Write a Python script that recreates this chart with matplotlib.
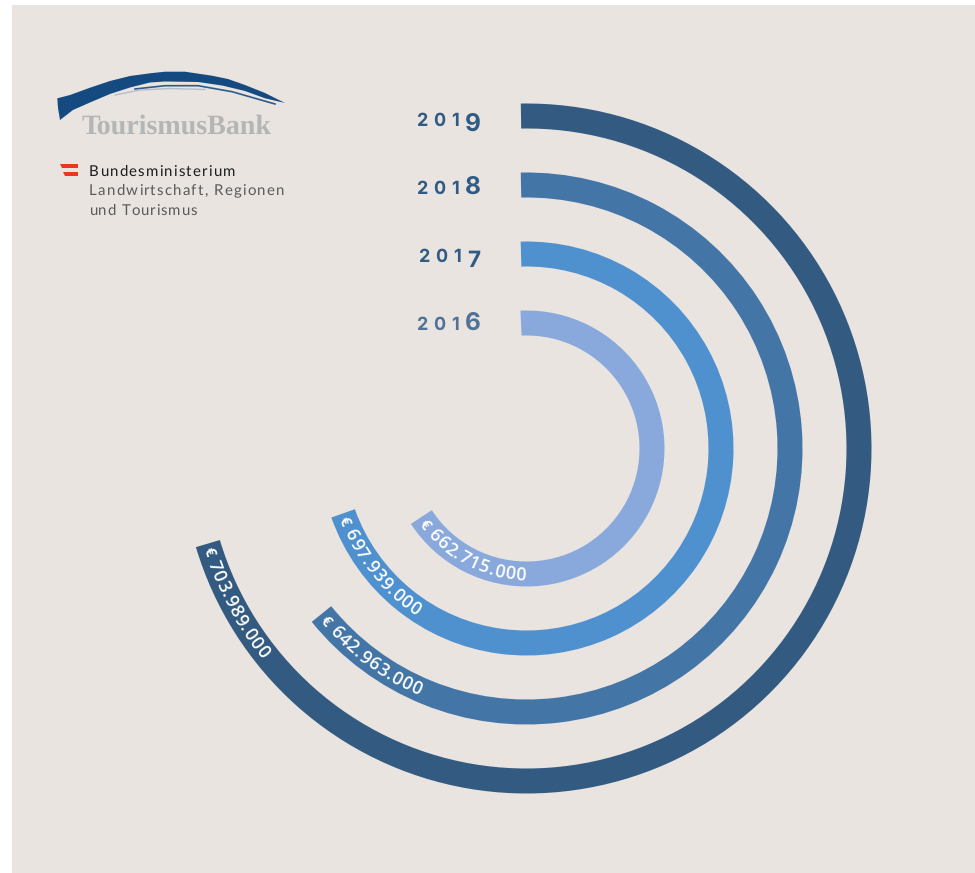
import numpy as np
import matplotlib
matplotlib.use('Agg')
import matplotlib.pyplot as plt
from matplotlib.font_manager import FontProperties, findfont, get_font
from matplotlib.ft2font import LoadFlags

plt.rcParams['text.hinting'] = 'no_hinting'
plt.rcParams['text.hinting_factor'] = 1

# data
years = ['2019', '2018', '2017', '2016']
values = [703989000, 642963000, 697939000, 662715000]
labels = ['703.989.000', '642.963.000', '697.939.000', '662.715.000']
bar_colors = ['#335a80', '#4375a6', '#4f90cf', '#89a9dd']
year_colors = ['#2f5b85', '#2f5b85', '#2f5b85', '#4f7296']
inner_radii = [320, 251, 182, 113]

W, H = 975, 873
cx, cy = 526.5, 448.5
R = 360
ring_w = 25
euro_per_deg = 2768000
bg = '#e9e4e0'


def char_width(ch, size_px, fp):
    font = get_font(findfont(fp))
    font.set_size(size_px, 72)
    glyph = font.load_char(ord(ch), flags=LoadFlags.NO_HINTING)
    return glyph.linearHoriAdvance / 65536


def spaced(ax, x, y, s, size_px, fp, color, tracking=0.0):
    # letter spaced text, one glyph at a time (pixel axes)
    for ch in s:
        ax.text(x, y, ch, fontproperties=fp, fontsize=size_px * 0.72, color=color,
                ha='left', va='baseline')
        x += char_width(ch, size_px, fp) + tracking
    return x


fig = plt.figure(figsize=(W / 100, H / 100), dpi=100, facecolor='white')

# page background with the white strip on left and top
px = fig.add_axes([0, 0, 1, 1])
px.set_xlim(0, W)
px.set_ylim(H, 0)
px.axis('off')
px.fill([12, W, W, 12], [5, 5, H, H], color=bg, lw=0)

# rings
ax = fig.add_axes([(cx - R) / W, (H - cy - R) / H, 2 * R / W, 2 * R / H], projection='polar')
ax.set_theta_zero_location('N')
ax.set_theta_direction(-1)
ax.set_ylim(0, R)
ax.axis('off')
ax.patch.set_alpha(0)

label_fp = FontProperties(family='Open Sans', weight='semibold')
euro_fp = FontProperties(family='Open Sans', weight='bold')
label_px = 18.5

for v, lab, col, r0 in zip(values, labels, bar_colors, inner_radii):
    start = -np.arcsin(5.5 / (r0 + ring_w / 2))
    end = np.radians(v / euro_per_deg) + start
    ax.bar((start + end) / 2, ring_w, width=end - start, bottom=r0, color=col, lw=0)

    # label runs back along the ring from its end
    rb = r0 + ring_w / 2 + 6
    th = end - 4 / rb
    for ch, size, fp in [('€', 15, euro_fp), (' ', 18, label_fp)] + [(c, label_px, label_fp) for c in lab]:
        w = char_width(ch, size, fp) + 0.35
        mid = th - (w / 2) / rb
        if ch != ' ':
            ax.text(mid, rb, ch, fontproperties=fp, fontsize=size * 0.72, color='white',
                    rotation=180 - np.degrees(mid), rotation_mode='anchor',
                    ha='center', va='baseline')
        th -= w / rb

# year labels, old style figures built from two sizes
year_fp = FontProperties(family='Inter', weight='bold')
small_px, big_px = 18, 24.5
baselines = [126, 194, 262, 330]
year_x = [416, 416, 418, 416]
for yr, col, base, x0 in zip(years, year_colors, baselines, year_x):
    x = x0
    for d in yr:
        if d == '9':
            size, dy = big_px, 5
        elif d == '7':
            size, dy = big_px - 2, 5
        elif d in '68':
            size, dy = big_px, 0
        else:
            size, dy = small_px, 0
        px.text(x, base + dy, d, fontproperties=year_fp, fontsize=size * 0.72, color=col,
                ha='left', va='baseline')
        x += char_width(d, size, year_fp) + 6

# logo brush stroke
top_x = [57.3, 70, 90, 110, 130, 150, 165, 185, 212, 228, 245, 265, 285]
top_y = [98.3, 95, 87.7, 81, 76, 73.3, 71.7, 71.7, 75.7, 79, 85, 93, 103]
bot_x = [265, 245, 222, 198, 165, 150, 130, 110, 90, 73, 60, 58]
bot_y = [98.3, 91, 85.5, 82, 81.5, 82.5, 87.5, 94, 102.5, 110, 120, 108]
px.fill(top_x + bot_x, top_y + bot_y, color='#154a80', lw=0)
px.plot([135, 165, 198, 232, 275], [89, 85.7, 85.7, 91.7, 104], color='#2d5c8c', lw=1.2)
px.plot([115, 140, 170, 205], [95, 90, 88.5, 89.5], color='#b4bec9', lw=1.0)

px.text(82, 134, 'TourismusBank', family='Liberation Serif', weight='bold', fontsize=20,
        color='#b4b6b6', ha='left', va='baseline')

# ministry block
px.fill([60, 78, 78, 62], [164, 164, 167.5, 167.5], color='#ee3524', lw=0)
px.fill([63, 78, 78, 65], [172, 172, 176, 176], color='#ee3524', lw=0)
regular = FontProperties(family='Lato', weight='regular')
spaced(px, 89, 176, 'Bundesministerium', 15, regular, '#1c1c1c', 1.2)
spaced(px, 89, 195, 'Landwirtschaft, Regionen', 15, regular, '#5a5a5a', 1.2)
spaced(px, 89, 215, 'und Tourismus', 15, regular, '#5a5a5a', 0.85)

fig.savefig('out.png', dpi=100, facecolor='white')
